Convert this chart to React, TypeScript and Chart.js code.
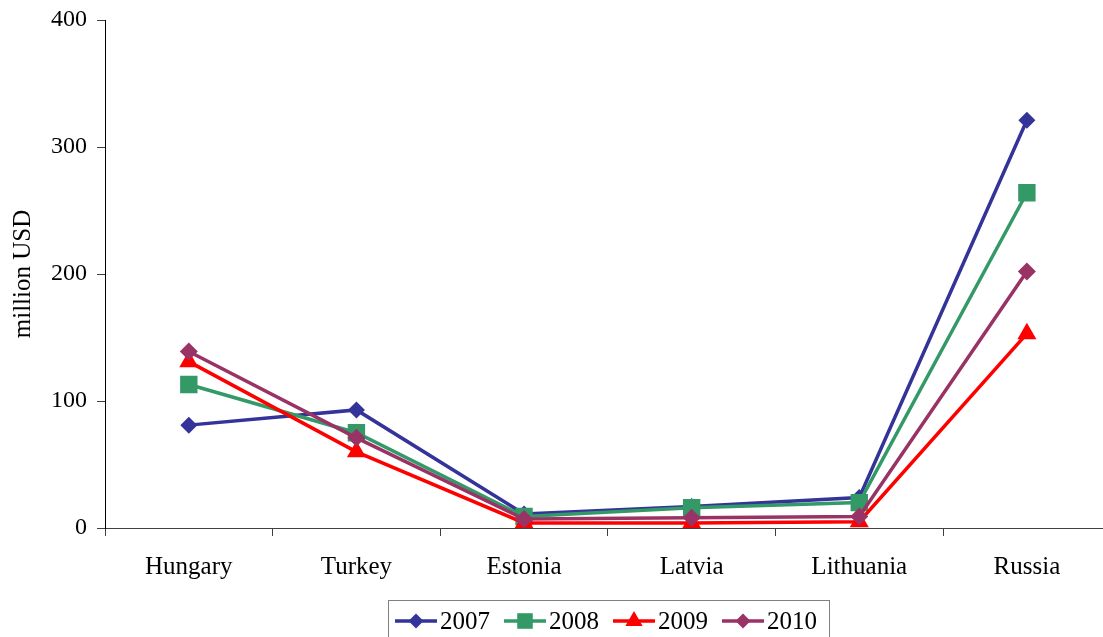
import React, { useEffect, useRef } from "react";
import { Chart, registerables } from "chart.js";

Chart.register(...registerables);

const countries = ["Hungary", "Turkey", "Estonia", "Latvia", "Lithuania", "Russia"];
const years = ["2007", "2008", "2009", "2010"];
const values2007 = [81, 93, 11, 17, 24, 321];
const values2008 = [113, 75, 9, 16, 20, 264];
const values2009 = [131, 60, 4, 4, 5, 153];
const values2010 = [139, 71, 7, 8, 9, 202];
const yTicks = [0, 100, 200, 300, 400];
const yTitle = "million USD";

const colors = ["#333399", "#339966", "#FF0000", "#993366"];
const pointStyles = ["rectRot", "rect", "triangle", "rectRot"] as const;
const pointRadii = [8.5, 12.3, 11, 9];
const legendRadii = [7.5, 11, 10, 7.5];

const FONT = "'Liberation Serif', 'DejaVu Serif', serif";

function drawMarker(ctx: CanvasRenderingContext2D, style: string, r: number, x: number, y: number) {
  ctx.beginPath();
  if (style === "rectRot") {
    ctx.moveTo(x, y - r);
    ctx.lineTo(x + r, y);
    ctx.lineTo(x, y + r);
    ctx.lineTo(x - r, y);
  } else if (style === "rect") {
    const s = r * Math.SQRT1_2;
    ctx.rect(x - s, y - s, 2 * s, 2 * s);
  } else {
    const h = r * Math.sin(Math.PI / 3);
    ctx.moveTo(x, y - r);
    ctx.lineTo(x + h, y + r / 2);
    ctx.lineTo(x - h, y + r / 2);
  }
  ctx.closePath();
  ctx.fill();
}

// Bordered legend below the plot: a line segment with its marker, then the year.
const boxLegend = {
  id: "boxLegend",
  afterDraw(chart: Chart) {
    const ctx = chart.ctx;
    ctx.save();
    ctx.strokeStyle = "#808080";
    ctx.lineWidth = 1;
    ctx.strokeRect(388.5, 600.5, 441, 60);
    const starts = [395, 504, 613, 722];
    const cy = 621;
    ctx.font = `25px ${FONT}`;
    ctx.textBaseline = "middle";
    ctx.textAlign = "left";
    years.forEach((year, i) => {
      const x0 = starts[i];
      ctx.strokeStyle = colors[i];
      ctx.lineWidth = 3.5;
      ctx.beginPath();
      ctx.moveTo(x0, cy);
      ctx.lineTo(x0 + 42, cy);
      ctx.stroke();
      ctx.fillStyle = colors[i];
      drawMarker(ctx, pointStyles[i], legendRadii[i], x0 + 21, cy);
      ctx.fillStyle = "#000";
      ctx.fillText(year, x0 + 45, cy + 1);
    });
    ctx.restore();
  },
};

export default function App() {
  const canvasRef = useRef<HTMLCanvasElement | null>(null);

  useEffect(() => {
    if (!canvasRef.current) return;
    const series = [values2007, values2008, values2009, values2010];
    const chart = new Chart(canvasRef.current, {
      type: "line",
      data: {
        labels: countries,
        datasets: series.map((data, i) => ({
          label: years[i],
          data,
          borderColor: colors[i],
          backgroundColor: colors[i],
          borderWidth: 3.5,
          pointStyle: pointStyles[i],
          pointRadius: pointRadii[i],
          pointBorderWidth: 0,
          pointBackgroundColor: colors[i],
          pointBorderColor: colors[i],
          tension: 0,
          order: 4 - i,
        })),
      },
      options: {
        animation: false,
        responsive: false,
        layout: { padding: { top: 20, bottom: 50, left: 0, right: 2 } },
        plugins: {
          legend: { display: false },
          tooltip: { enabled: false },
        },
        scales: {
          x: {
            type: "category",
            offset: true,
            grid: {
              offset: true,
              drawOnChartArea: false,
              drawTicks: true,
              tickLength: 8,
              color: "#404040",
            },
            border: { color: "#404040", width: 1 },
            ticks: {
              color: "#000",
              font: { family: FONT, size: 25 },
              padding: 16,
              maxRotation: 0,
            },
            afterFit(scale: any) {
              scale.height = 59;
            },
          },
          y: {
            min: 0,
            max: 400,
            afterBuildTicks(scale: any) {
              scale.ticks = yTicks.map((v) => ({ value: v }));
            },
            grid: {
              drawOnChartArea: false,
              drawTicks: true,
              tickLength: 8,
              color: "#404040",
            },
            border: { color: "#000", width: 1 },
            ticks: {
              color: "#000",
              font: { family: FONT, size: 24 },
              padding: 10,
            },
            title: {
              display: true,
              text: yTitle,
              color: "#000",
              font: { family: FONT, size: 25 },
              padding: { top: 8, bottom: 0 },
            },
            afterFit(scale: any) {
              scale.width = 105;
              scale.paddingTop = 0;
              scale.paddingBottom = 0;
            },
          },
        },
      },
      plugins: [boxLegend],
    });
    return () => chart.destroy();
  }, []);

  return (
    <div
      style={{
        position: "fixed",
        left: 0,
        top: 0,
        width: "1103px",
        height: "637px",
        overflow: "hidden",
        background: "#fff",
      }}
    >
      <canvas ref={canvasRef} width={1123} height={637} style={{ display: "block" }} />
    </div>
  );
}
